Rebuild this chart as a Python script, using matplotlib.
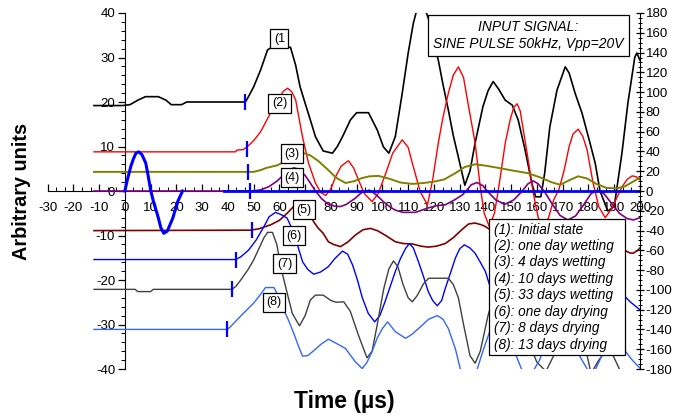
import numpy as np
import matplotlib
matplotlib.use("Agg")
import matplotlib.pyplot as plt
from matplotlib.ticker import MultipleLocator
from matplotlib.patches import Rectangle

plt.rcParams["font.family"] = ["Liberation Sans", "DejaVu Sans"]
plt.rcParams["axes.unicode_minus"] = False

# input sine pulse (left axis units); the zero line resumes after the gap
pulse = [(0, 0), (1, 2.6), (2.3, 5.5), (3.3, 7.2), (4.3, 8.5), (5.4, 8.8), (6.6, 8.2),
         (8.1, 6.3), (9, 3.6), (10, 0.2), (11.3, -2.8), (12.7, -5.4), (14, -8.3),
         (15.1, -9.5), (16.5, -9), (18.6, -6.1), (20.5, -2.4), (22.4, 0)]
pulse_zero = [(38.5, 0), (200, 0)]

# received signals, offset per state
c1 = [(-12, 19.2), (-1, 19.2), (2, 19.4), (5, 20.4), (8, 21.2), (13, 21.2), (16, 20.4),
      (18, 19.4), (22, 19.4), (24, 20), (46.8, 20), (48, 21.2), (50, 23.4), (52.7, 27.2),
      (55.4, 31.7), (57, 32.3), (64.3, 32.3), (66.3, 28.3), (68, 23.5), (70, 19.7),
      (72, 16), (74, 12.2), (77, 9), (80.6, 8.5), (82.5, 10), (84.5, 12.2), (87.6, 16),
      (90, 17.6), (94.6, 17.6), (98, 13.7), (100.4, 9.9), (102.5, 8.5), (105, 12.2),
      (107.7, 22), (110, 31), (112, 37.7), (113.5, 41), (115, 42), (116.5, 41),
      (118, 38.5), (120, 33), (121.7, 29.4), (123.5, 24), (125.6, 18.2), (127.5, 12.5),
      (129.5, 7.6), (132, 1.3), (134, 4.5), (136, 10.8), (139, 18.9), (141, 22.5),
      (143, 24.6), (145, 23), (147.7, 20.4), (150.4, 19.3), (152.7, 16), (155.4, 9.2),
      (158, 1.8), (159.5, -1.3), (161.5, -1.3), (163, 4), (165, 14.4), (167.8, 22.7),
      (171, 27.9), (172.5, 26.5), (174.8, 22), (177.5, 17.5), (180, 12.1), (182.6, 6.3),
      (184.5, 0), (187.5, -4.5), (190, -3.5), (193, 8.5), (195.3, 19.7), (198, 30.1),
      (198.8, 31), (200, 29.4)]
c2 = [(-12, 8.8), (43, 8.8), (43.5, 9.2), (46, 9.3), (47.6, 10), (50, 11.3), (52.7, 13.3),
      (55.8, 16.7), (59.3, 20.4), (61.5, 22.4), (63.2, 23.1), (64.8, 22.3), (66.3, 20.5),
      (69, 12.1), (71.3, 6.3), (74, 1.8), (76, -0.3), (78, -1), (80, 0.5), (81.8, 3.2),
      (84, 5.6), (86.8, 6.8), (88.8, 5.2), (90.7, 2.5), (93, -0.6), (96, -2.4),
      (98.4, -0.5), (101, 3.5), (104, 8.5), (107.7, 11.5), (110, 9.8), (111.6, 6.3),
      (114.7, -0.2), (117.5, -3.1), (119.5, 2.5), (121.7, 10.8), (123.5, 16.5),
      (125.6, 22), (127.5, 26), (129.5, 27.9), (131.5, 25.5), (133.3, 19.5), (136, 10.8),
      (138, 0.9), (139.5, -5), (141.5, -8), (143.5, -5), (145, 0.2), (147.7, 10.8),
      (149.6, 16), (151, 18.8), (152.3, 19.6), (153.5, 18), (154.7, 13.7), (156.6, 7),
      (158.5, -0.2), (160.5, -6), (162.5, -8), (164.5, -6), (166.5, -2), (168.5, 0.3),
      (170.5, 4.5), (172.5, 10), (174, 12.8), (176, 13.9), (177.8, 12.3), (179.5, 9.2),
      (181.8, 1.8), (184, -3.5), (186.5, -6), (189, -4), (193, 0.9), (195, 2.6),
      (197, 3.4), (198.5, 3.2), (200, 2.5)]
c3 = [(-12, 4.3), (50, 4.3), (52.7, 4.7), (55, 5.2), (59.3, 5.8), (62, 6.6), (65.5, 7.6),
      (67.5, 8.2), (69.5, 8.5), (72, 8), (75, 6.8), (79, 4.7), (82, 3), (85.7, 1.8),
      (89, 2.2), (92, 2.9), (95, 3.3), (98.5, 3.4), (103, 2.7), (107, 1.9), (111.5, 1.6),
      (116, 1.8), (120, 2.1), (124, 2.6), (128, 3.9), (132, 5.4), (136, 6), (140, 5.7),
      (145, 5.2), (150.5, 4.6), (156.6, 4), (162, 2.9), (165.5, 2), (169, 1.4),
      (172.5, 2.4), (176, 3.3), (179.5, 2.8), (183, 1.6), (187, 0.7), (191, 0.6),
      (194, 1), (197, 2), (200, 3)]
c4 = [(-12, 0), (50, 0), (53, 0.3), (56, 1), (59, 2.2), (62, 3.8), (64, 4.8), (65.6, 5.2),
      (67.5, 4.9), (70, 3.5), (72, 1.8), (74, 0), (76.5, -1.8), (79, -3), (81.5, -3.4),
      (83.7, -3.5), (86, -3), (89.5, -1.6), (92, -0.3), (95, 0.2), (97.5, -0.8),
      (100.4, -2.4), (103, -3.6), (105, -4.3), (108, -4.8), (112.8, -4.8), (117.8, -3.8),
      (121, -3.3), (124.4, -3.1), (128, -2), (131, -0.9), (132.5, 0), (134.5, 1.4),
      (136.7, 1.9), (139, 1.2), (141, -0.2), (144, -2), (147.5, -3), (151, -2),
      (154, -0.2), (156.5, 1.6), (158.5, 2.3), (160.5, 1.6), (163, -0.2), (166, -3),
      (169, -5.5), (172, -6.5), (175, -5.6), (178, -3.2), (181, -0.6), (183.5, 0.2),
      (186, -0.6), (189, -2.8), (192, -5), (195, -6.2), (197.5, -6.5), (200, -6)]
c5 = [(-12, -8.9), (48.8, -8.8), (52, -8.5), (56.6, -7.6), (60, -6.6), (63, -5),
      (65.5, -3.5), (67.5, -2.8), (69.5, -3.2), (71.5, -4.8), (73.3, -6.9), (75, -8.3),
      (77, -9.5), (79, -11.4), (81, -12), (83.7, -12.5), (86.5, -11.5), (89.5, -9.9),
      (92.5, -8.7), (95.3, -8.4), (98, -8.9), (101, -9.9), (105, -11.4), (108, -11.8),
      (111.6, -11.9), (115, -12.4), (117.8, -12.6), (121, -12.4), (124.4, -11.8),
      (127.5, -10.5), (131, -8.6), (133.5, -7.4), (136, -7.2), (138.5, -7.6), (140, -8),
      (142.6, -9), (147, -11), (152, -12.5), (158, -12), (165, -10.5), (172, -10),
      (179, -11), (186, -12.5), (191, -13), (194, -13.3), (196, -13.9), (197.3, -14),
      (199.2, -13.3), (200, -12.8)]
c6 = [(-12, -15.4), (43, -15.4), (45, -14.8), (48, -13.3), (51, -11), (54, -8),
      (56, -5.8), (58.5, -4.8), (61, -5.4), (63, -6.1), (65, -8.6), (67, -12.1),
      (69, -15.9), (71, -17.6), (73.3, -18.7), (76, -18.2), (79, -17), (81.5, -15.2),
      (84.5, -13.5), (86.5, -14.2), (88.4, -16.6), (90.3, -20), (92.2, -24),
      (94.5, -27.5), (97, -29.4), (99, -28), (101, -24.9), (103, -21.5), (105, -18.1),
      (107, -15.2), (109, -12.9), (110.5, -11.8), (112, -12.8), (114, -15.9),
      (116, -19.3), (117.8, -22.6), (119.5, -24.6), (121.3, -25.8), (123, -24.6),
      (124.4, -21.9), (126.5, -18.3), (128.3, -15.1), (130, -13), (131.8, -12.1),
      (134, -12.8), (136, -14), (138, -16), (140, -18.1), (141.8, -21.5), (145, -25.5),
      (149, -27.5), (153, -25), (158, -19), (162, -15), (166, -15.5), (171, -20),
      (176, -25), (181, -23), (186, -19), (190, -20.5), (193, -23), (196, -24.8),
      (200, -26.7)]
c7 = [(-12, -22.1), (4, -22.1), (5, -22.6), (10, -22.6), (11, -22.1), (41.5, -22.1),
      (43, -21.5), (45, -20), (48, -17.5), (50, -15.5), (52, -13), (54, -10.5),
      (55.4, -9.3), (57.3, -9.3), (59, -12), (60.5, -17), (62.4, -21.5), (65, -27.5),
      (67.8, -30.3), (70, -28), (72, -24.5), (74, -23.4), (77, -23.4), (80, -24.6),
      (82, -25), (85, -24.9), (87.5, -27), (90.7, -32.4), (94, -37.5), (96, -36),
      (98, -30), (100.5, -22), (102.5, -17.5), (104.3, -15.7), (106, -17), (108, -21),
      (110, -24), (111.6, -24.9), (113.5, -23.5), (116, -20.8), (118, -19.6),
      (125.6, -19.6), (127.5, -21), (129.5, -24), (131.5, -30), (134, -37), (136, -38.7),
      (138, -36), (141, -28), (144, -22), (148, -21), (152, -26), (156, -33),
      (160, -38.5), (163.5, -40.5), (166.5, -37), (170, -29), (174, -26), (178, -33),
      (181, -41), (184, -38), (188, -35), (192, -40), (196, -44), (200, -46)]
c8 = [(-12, -31.1), (39.8, -31.1), (41, -30.5), (42.3, -29.7), (46, -27.5), (50, -25.2),
      (53, -23), (54.6, -21.7), (57.9, -21.7), (59.5, -23.5), (61.7, -26.7), (63.5, -29),
      (65.6, -32), (67.5, -35), (69, -37.1), (71, -37), (73.5, -35.8), (76, -34.5),
      (79, -33.3), (82, -34.2), (85.7, -35.4), (89.5, -38.4), (92.2, -39.9), (94, -38.5),
      (96, -36.1), (98, -33), (100, -30.9), (102, -29.4), (105, -31.6), (109, -33.1),
      (111.5, -32.2), (114, -30.9), (118, -28.8), (121.3, -28), (123.5, -28.8),
      (125.6, -30.9), (128.3, -35.4), (130.2, -39.9), (133, -43), (136, -41.5),
      (139, -36), (142, -31), (145, -30), (148, -32.5), (151.5, -36.4), (154, -40),
      (157, -42), (161, -38), (165, -32), (170, -30), (175, -35.5), (179.5, -40),
      (182, -41), (186, -36), (189.5, -32), (193.4, -35.3), (197, -38), (200, -39.8)]

curves = [c1, c2, c3, c4, c5, c6, c7, c8]
colors = ["#000000", "#ff0000", "#808000", "#800080", "#800000", "#0000ff", "#404040", "#3366ff"]
widths = [1.2, 1.0, 1.4, 1.2, 1.2, 1.0, 1.0, 1.0]

# arrival picks (time, level) marked with a short blue bar
onsets = [(46.8, 20), (47.3, 9.5), (48, 4.3), (48.5, 0), (49.3, -8.8), (43, -15.4),
          (41.5, -22.1), (39.8, -31.1)]

tags = ["(1", "(2)", "(3)", "(4)", "(5)", "(6)", "(7)", "(8)"]
tag_pos = [(60, 34.2), (60, 19.7), (65, 8.4), (65, 3.0), (69.5, -4.2), (65.6, -10.1),
           (62, -16.4), (57.8, -25)]

legend_lines = ["(1): Initial state", "(2): one day wetting", "(3): 4 days wetting",
                "(4): 10 days wetting", "(5): 33 days wetting", "(6): one day drying",
                "(7): 8 days drying", "(8): 13 days drying"]

fig = plt.figure(figsize=(6.77, 4.18), dpi=100)
ax = fig.add_axes([0.0703, 0.1172, 0.875, 0.8517])
ax.set_xlim(-30, 200)
ax.set_ylim(-40, 40)

for k in ("top", "right"):
    ax.spines[k].set_visible(False)
ax.spines["left"].set_position(("data", 0))
ax.spines["bottom"].set_position(("data", 0))

for pts, col, lw in zip(curves, colors, widths):
    a = np.array(pts)
    ax.plot(a[:, 0], a[:, 1], color=col, lw=lw, zorder=3)

p = np.array(pulse)
ax.plot(p[:, 0], p[:, 1], color="#0000ff", lw=2.2, zorder=4)
pz = np.array(pulse_zero)
ax.plot(pz[:, 0], pz[:, 1], color="#0000ff", lw=2.0, zorder=4)

o = np.array(onsets)
ax.plot(o[:, 0], o[:, 1], ls="none", marker="|", ms=11, mew=1.6, color="#0000ff", zorder=5)

for s, (tx, ty) in zip(tags, tag_pos):
    ax.text(tx, ty, s, ha="center", va="center", fontsize=9, zorder=6,
            bbox=dict(boxstyle="square,pad=0.28", fc="white", ec="black", lw=0.9))

ax.xaxis.set_major_locator(MultipleLocator(10))
ax.xaxis.set_minor_locator(MultipleLocator(10 / 3))
ax.yaxis.set_major_locator(MultipleLocator(10))
ax.yaxis.set_minor_locator(MultipleLocator(2))
ax.tick_params(axis="x", which="major", labelsize=9.5, length=5, width=0.9, direction="in", pad=8)
ax.tick_params(axis="x", which="minor", length=3, width=0.7, direction="in")
ax.tick_params(axis="y", which="major", labelsize=9.5, length=5, width=0.9, direction="out", pad=2)
ax.tick_params(axis="y", which="minor", length=3, width=0.7, direction="out")

ax2 = ax.twinx()
ax2.set_ylim(-180, 180)
for k in ("top", "left", "bottom"):
    ax2.spines[k].set_visible(False)
ax2.yaxis.set_major_locator(MultipleLocator(20))
ax2.yaxis.set_minor_locator(MultipleLocator(5))
ax2.tick_params(axis="y", which="major", labelsize=9.5, length=6, width=0.9, direction="inout", pad=1)
ax2.tick_params(axis="y", which="minor", length=3, width=0.7, direction="inout")

ax.text(0.812, 0.937, "INPUT SIGNAL:\nSINE PULSE 50kHz, Vpp=20V", transform=ax.transAxes,
        ha="center", va="center", fontsize=10, style="italic", linespacing=1.3, zorder=7,
        bbox=dict(boxstyle="square,pad=0.35", fc="white", ec="black", lw=0.9))

# legend frame is wider than its text on the right
ax.add_patch(Rectangle((0.745, 0.0393), 0.2296, 0.382, transform=ax.transAxes,
                       fc="white", ec="black", lw=0.9, zorder=7))
ax.text(0.7535, 0.23, "\n".join(legend_lines), transform=ax.transAxes,
        ha="left", va="center", fontsize=9.8, style="italic", linespacing=1.22, zorder=8)

fig.text(0.032, 0.543, "Arbitrary units", rotation=90, ha="center", va="center",
         fontsize=14.3, fontweight="bold")
fig.text(0.508, 0.04, "Time (\u00b5s)", ha="center", va="center", fontsize=16.5,
         fontweight="bold")

fig.savefig("out.png", dpi=100)
